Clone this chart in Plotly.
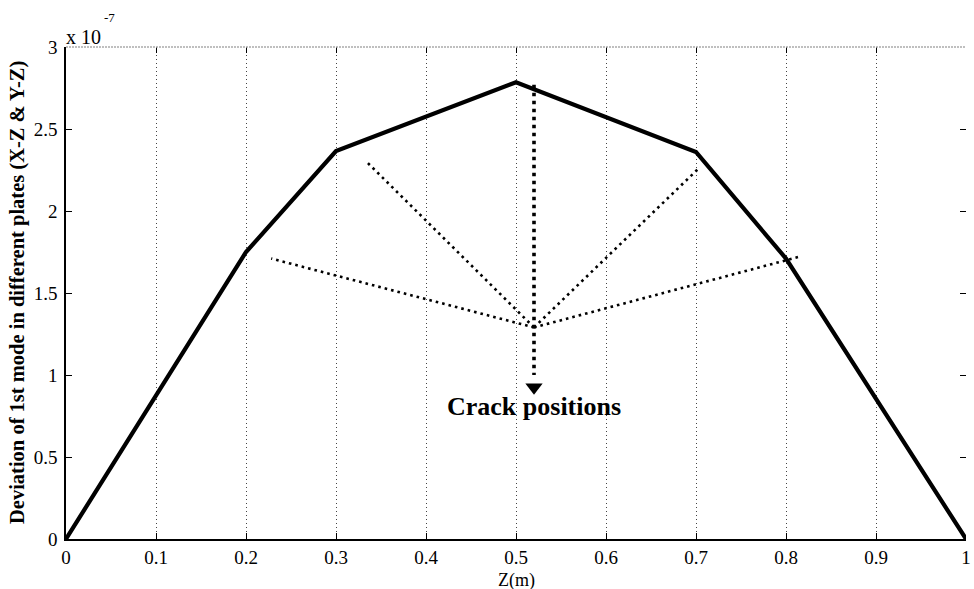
import plotly.graph_objects as go

# ---- data ----
z = [0.0, 0.2, 0.3, 0.5, 0.7, 0.8, 1.0]
deviation = [0.0, 1.75e-7, 2.365e-7, 2.785e-7, 2.36e-7, 1.71e-7, 0.0]

crack_center_x = 0.52
crack_center_y = 1.29e-7
ray_end_x = [0.228, 0.334, 0.703, 0.814]
ray_end_y = [1.71e-7, 2.30e-7, 2.26e-7, 1.72e-7]

arrow_x = [0.52, 0.52]
arrow_y = [2.77e-7, 1.0e-7]
arrow_head_y = [0.925e-7]

x_ticks = [0, 0.1, 0.2, 0.3, 0.4, 0.5, 0.6, 0.7, 0.8, 0.9, 1.0]
x_ticktext = ["0", "0.1", "0.2", "0.3", "0.4", "0.5", "0.6", "0.7", "0.8", "0.9", "1"]
y_ticks = [0, 0.5e-7, 1e-7, 1.5e-7, 2e-7, 2.5e-7, 3e-7]
y_ticktext = ["0", "0.5", "1", "1.5", "2", "2.5", "3"]

x_title = "Z(m)"
y_title = "Deviation of 1st mode in different plates (X-Z & Y-Z)"
label_text = "Crack positions"
label_x, label_y = 0.52, 0.805e-7

FONT = "Liberation Serif"

fig = go.Figure()

# rays from crack center
rx, ry = [], []
for ex, ey in zip(ray_end_x, ray_end_y):
    rx += [crack_center_x, ex, None]
    ry += [crack_center_y, ey, None]
fig.add_trace(go.Scatter(x=rx, y=ry, mode="lines",
                         line=dict(color="black", width=2.6, dash="2.6px,4px"),
                         hoverinfo="skip", showlegend=False))

# vertical dotted arrow
fig.add_trace(go.Scatter(x=arrow_x, y=arrow_y, mode="lines",
                         line=dict(color="black", width=3.6, dash="3.6px,4.4px"),
                         hoverinfo="skip", showlegend=False))
fig.add_trace(go.Scatter(x=[arrow_x[0]], y=arrow_head_y, mode="markers",
                         marker=dict(symbol="triangle-down", size=15, color="black",
                                     line=dict(width=0)),
                         hoverinfo="skip", showlegend=False))

# main curve
fig.add_trace(go.Scatter(x=z, y=deviation, mode="lines",
                         line=dict(color="black", width=4.2),
                         hoverinfo="skip", showlegend=False))

# dummy trace to bring up the mirror-tick axes
fig.add_trace(go.Scatter(x=[None], y=[None], xaxis="x2", yaxis="y2",
                         hoverinfo="skip", showlegend=False))

fig.add_annotation(x=label_x, y=label_y, text="<b>" + label_text + "</b>",
                   showarrow=False, font=dict(family=FONT, size=26, color="black"),
                   xanchor="center", yanchor="middle")

# axis titles
fig.add_annotation(xref="paper", yref="paper", x=0.5, y=0, yshift=-41,
                   xanchor="center", yanchor="middle", showarrow=False,
                   text=x_title, font=dict(family=FONT, size=18, color="black"))
fig.add_annotation(xref="paper", yref="paper", x=0, y=0.5, xshift=-49,
                   xanchor="center", yanchor="middle", showarrow=False, textangle=-90,
                   text="<b>" + y_title + "</b>", font=dict(family=FONT, size=20.5, color="black"))

# exponent label
fig.add_annotation(xref="paper", yref="paper", x=0.0, y=1.0, xanchor="left", yanchor="bottom",
                   text="x 10", showarrow=False, yshift=-3, xshift=-2,
                   font=dict(family=FONT, size=20, color="black"))
fig.add_annotation(xref="paper", yref="paper", x=0.0, y=1.0, xanchor="left", yanchor="bottom",
                   text="-7", showarrow=False, yshift=20, xshift=36,
                   font=dict(family=FONT, size=13, color="black"))

# top border (light dotted)
fig.add_shape(type="line", xref="paper", yref="paper", x0=0, x1=1, y0=1, y1=1,
              line=dict(color="#aaaaaa", width=1.5, dash="2px,1px"))

fig.update_layout(
    width=974, height=589,
    margin=dict(l=66, r=8, t=47, b=50),
    paper_bgcolor="white", plot_bgcolor="white",
    font=dict(family=FONT, color="black"),
    xaxis=dict(range=[0, 1], tickvals=x_ticks, ticktext=x_ticktext, automargin=False,
               ticks="inside", ticklen=6, tickcolor="black", tickwidth=1,
               showline=True, linecolor="black", linewidth=1.5,
               showgrid=True, gridcolor="#444444", gridwidth=1, griddash="1px,3px",
               zeroline=False, tickfont=dict(family=FONT, size=19, color="black"),
               ticklabelstandoff=0),
    yaxis=dict(range=[0, 3e-7], tickvals=y_ticks, ticktext=y_ticktext, automargin=False,
               ticks="inside", ticklen=6, tickcolor="black", tickwidth=1,
               showline=True, linecolor="black", linewidth=1.5,
               showgrid=False, zeroline=False,
               tickfont=dict(family=FONT, size=19, color="black"),
               ticklabelstandoff=3),
    xaxis2=dict(range=[0, 1], overlaying="x", side="top", tickvals=x_ticks,
                ticks="inside", ticklen=6, tickcolor="black", showticklabels=False,
                showline=False, showgrid=False, zeroline=False, automargin=False),
    yaxis2=dict(range=[0, 3e-7], overlaying="y", side="right", tickvals=y_ticks,
                ticks="inside", ticklen=6, tickcolor="black", showticklabels=False,
                showline=False, showgrid=False, zeroline=False, automargin=False),
)

fig.write_html("out.html")
